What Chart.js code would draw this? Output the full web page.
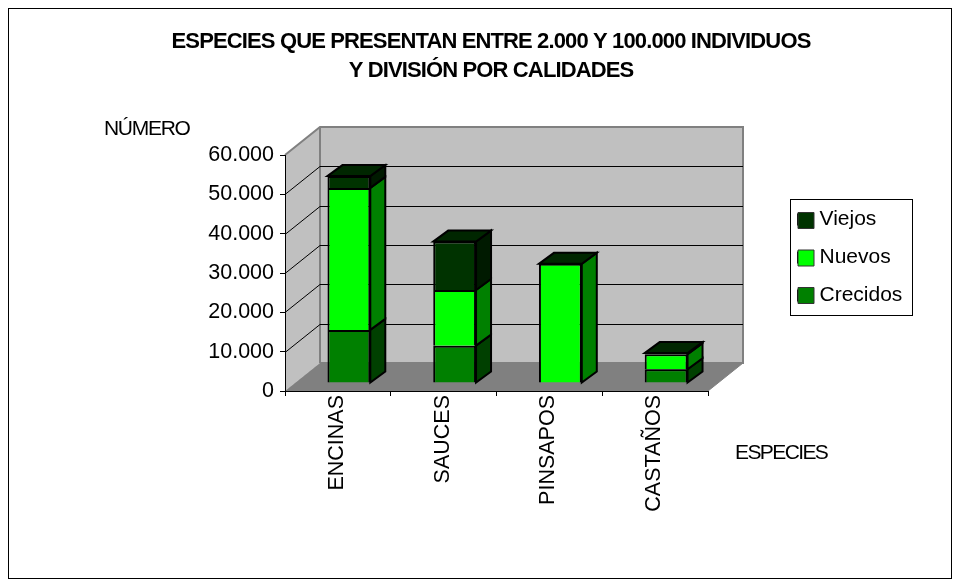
<!DOCTYPE html>
<html><head><meta charset="utf-8">
<style>html,body{margin:0;padding:0;background:#fff}#w{width:960px;height:587px}canvas{display:block}</style>
<script src="https://cdn.jsdelivr.net/npm/chart.js@4"></script>
</head><body><div id="w"><canvas id="c" width="960" height="587"></canvas></div>
<script>
const categories = ['ENCINAS','SAUCES','PINSAPOS','CASTAÑOS'];
const crecidos = [13500, 9500, 0, 3500];
const nuevos = [36100, 14150, 30300, 3800];
const viejos = [3000, 12300, 0, 300];
const yTickLabels = ['0','10.000','20.000','30.000','40.000','50.000','60.000'];
const titleLines = ['ESPECIES QUE PRESENTAN ENTRE 2.000 Y 100.000 INDIVIDUOS','Y DIVISIÓN POR CALIDADES'];
const yAxisName = 'NÚMERO';
const xAxisName = 'ESPECIES';
const FONT = '"Liberation Sans", Arial, sans-serif';

const WALL = {dx:35, dy:-28};
const BAR_SHIFT = {dx:11, dy:-8};
const BAR_DEPTH = {dx:15, dy:-11};
const faces = [
  {front:'#008000', side:'#004000'},
  {front:'#00FF00', side:'#008000'},
  {front:'#003300', side:'#001A00'}
];
const topColor = '#002600';

function poly(ctx, pts, fill, stroke, lw){
  ctx.beginPath();
  pts.forEach((p,i)=> i?ctx.lineTo(p[0],p[1]):ctx.moveTo(p[0],p[1]));
  ctx.closePath();
  if(fill){ctx.fillStyle=fill;ctx.fill();}
  if(stroke){ctx.strokeStyle=stroke;ctx.lineWidth=lw;ctx.lineJoin='miter';ctx.stroke();}
}

const scene = {
  id:'scene',
  afterInit(chart){
    const t = chart.titleBlock, d = t.draw;
    t.draw = function(){ chart.ctx.letterSpacing='-0.87px'; d.call(this); chart.ctx.letterSpacing='0px'; };
  },
  afterLayout(chart){
    const t = chart.titleBlock; t.left = 22; t.right = 960;
    const l = chart.legend;
    l.left = 781; l.right = 930; l.top = 192; l.bottom = 400; l.width = 149; l.height = 208;
  },
  beforeDraw(chart){
    const {ctx, chartArea:a, scales:{y}} = chart;
    ctx.save();
    ctx.fillStyle='#fff'; ctx.fillRect(0,0,960,587);
    ctx.strokeStyle='#000'; ctx.lineWidth=1; ctx.strokeRect(8.5,8.5,943,570);
    const {dx,dy} = WALL, L=a.left, R=a.right, T=a.top, B=a.bottom;
    poly(ctx,[[L,B],[L+dx,B+dy],[R+dx,B+dy],[R,B]],'#808080','#808080',1);
    poly(ctx,[[L,T],[L+dx,T+dy],[L+dx,B+dy],[L,B]],'#C0C0C0');
    poly(ctx,[[L+dx,T+dy],[R+dx,T+dy],[R+dx,B+dy],[L+dx,B+dy]],'#C0C0C0');
    ctx.strokeStyle='#808080'; ctx.lineWidth=2;
    ctx.beginPath();ctx.moveTo(L,T);ctx.lineTo(L+dx,T+dy);ctx.lineTo(R+dx,T+dy);ctx.lineTo(R+dx,B+dy);ctx.lineTo(L+dx,B+dy);ctx.stroke();
    ctx.beginPath();ctx.moveTo(L+dx,T+dy);ctx.lineTo(L+dx,B+dy);ctx.stroke();
    ctx.strokeStyle='#000'; ctx.lineWidth=1;
    y.ticks.forEach(tk=>{
      if(tk.value===y.max||tk.value===0) return;
      const py=Math.round(y.getPixelForValue(tk.value))+.5;
      ctx.beginPath();ctx.moveTo(L,py);ctx.lineTo(L+dx,py+dy);ctx.lineTo(R+dx,py+dy);ctx.stroke();
    });
    ctx.restore();
  },
  beforeDatasetsDraw(chart){
    chart.ctx.save();
    chart.ctx.translate(BAR_SHIFT.dx,BAR_SHIFT.dy);
  },
  afterDatasetsDraw(chart){
    const ctx = chart.ctx, dx=BAR_DEPTH.dx, dy=BAR_DEPTH.dy;
    chart.data.datasets.forEach((ds,di)=>{
      chart.getDatasetMeta(di).data.forEach(el=>{
        const p = el.getProps(['x','y','base','width'],true);
        const xr = p.x+p.width/2;
        if(p.base-p.y>0.01)
          poly(ctx,[[xr,p.y],[xr+dx,p.y+dy],[xr+dx,p.base+dy],[xr,p.base]],faces[di].side,'#000',2);
      });
    });
    const lastMeta = chart.getDatasetMeta(chart.data.datasets.length-1);
    lastMeta.data.forEach(el=>{
      const p = el.getProps(['x','y','width'],true);
      const xl=p.x-p.width/2, xr=p.x+p.width/2;
      poly(ctx,[[xl,p.y],[xr,p.y],[xr+dx,p.y+dy],[xl+dx,p.y+dy]],topColor,'#000',2);
    });
    ctx.restore();
  },
  afterDraw(chart){
    const ctx=chart.ctx, l=chart.legend;
    ctx.save();
    ctx.strokeStyle='#000';ctx.lineWidth=1;
    ctx.strokeRect(790.5,199.5,122,116);
    l.legendItems.forEach((item,i)=>{
      const top=212.5+i*37.5;
      poly(ctx,[[798,top],[814,top],[814,top+16],[798,top+16]],item.fillStyle,'#333',1);
    });
    ctx.fillStyle='#000';ctx.textBaseline='alphabetic';ctx.textAlign='left';
    ctx.font='21px '+FONT;ctx.letterSpacing='-1.3px';
    ctx.fillText(yAxisName,104,134.5);
    ctx.letterSpacing='-1.6px';
    ctx.fillText(xAxisName,735,458.5);
    ctx.restore();
  }
};

const mk = (label,data,i)=>({label,data,backgroundColor:faces[i].front,borderColor:'#000',borderWidth:2,clip:false});

new Chart(document.getElementById('c'),{
  type:'bar',
  plugins:[scene],
  data:{labels:categories,datasets:[mk('Crecidos',crecidos,0),mk('Nuevos',nuevos,1),mk('Viejos',viejos,2)]},
  options:{
    responsive:false,animation:false,
    events:[],
    layout:{padding:{left:185,right:252,top:0,bottom:0}},
    datasets:{bar:{barPercentage:0.405,categoryPercentage:1}},
    plugins:{
      tooltip:{enabled:false},
      title:{display:true,text:titleLines,color:'#000',font:{family:FONT,size:22,weight:'bold',lineHeight:29/22},padding:{top:27.5,bottom:69.5}},
      legend:{position:'chartArea',align:'start',reverse:true,
        labels:{color:'#000',font:{family:FONT,size:21},boxWidth:11,boxHeight:10,padding:17}}
    },
    scales:{
      x:{stacked:true,
        afterFit(s){s.height=587-391;},
        border:{color:'#000',width:1},
        grid:{drawOnChartArea:false,drawTicks:true,tickLength:5,color:'#000'},
        ticks:{color:'#000',font:{family:FONT,size:21.5},minRotation:90,maxRotation:90,autoSkip:false,padding:-1,labelOffset:-1}},
      y:{stacked:true,min:0,max:60000,
        afterFit(s){s.width=100;},
        border:{color:'#000',width:1},
        grid:{drawOnChartArea:false,drawTicks:true,tickLength:5,color:'#000'},
        ticks:{color:'#000',font:{family:FONT,size:21.5},stepSize:10000,padding:6,
          callback:(v,i)=>yTickLabels[i]}}
    }
  }
});
</script></body></html>
